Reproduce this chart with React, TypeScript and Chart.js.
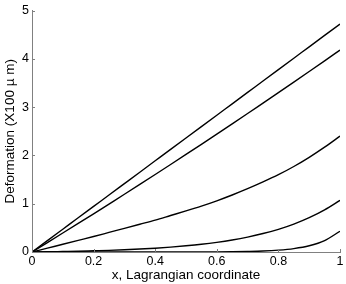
import React, { useEffect, useRef } from "react";
import { Chart, registerables } from "chart.js";

Chart.register(...registerables);

const xValues = [
  0, 0.05, 0.1, 0.15, 0.2, 0.25, 0.3, 0.35, 0.4, 0.45, 0.5,
  0.55, 0.6, 0.65, 0.7, 0.75, 0.8, 0.85, 0.9, 0.95, 1.0,
];
const curve1 = [
  0, 0.236, 0.472, 0.708, 0.944, 1.18, 1.416, 1.652, 1.888, 2.124, 2.36,
  2.596, 2.832, 3.068, 3.304, 3.54, 3.776, 4.012, 4.248, 4.484, 4.72,
];
const curve2 = [
  0, 0.196, 0.393, 0.591, 0.791, 0.993, 1.195, 1.399, 1.605, 1.812, 2.02,
  2.23, 2.441, 2.653, 2.867, 3.083, 3.299, 3.517, 3.737, 3.958, 4.18,
];
const curve3 = [
  0, 0.08, 0.16, 0.24, 0.32, 0.405, 0.49, 0.575, 0.66, 0.755, 0.85,
  0.95, 1.06, 1.18, 1.31, 1.45, 1.6, 1.77, 1.96, 2.17, 2.4,
];
const curve4 = [
  0, 0.004, 0.01, 0.016, 0.025, 0.034, 0.046, 0.061, 0.079, 0.101, 0.128,
  0.16, 0.2, 0.249, 0.309, 0.382, 0.47, 0.579, 0.712, 0.874, 1.07,
];
const curve5 = [
  0, 0, 0, 0, 0, 0, 0, 0, 0, 0, 0.001,
  0.002, 0.0035, 0.0064, 0.012, 0.021, 0.039, 0.071, 0.129, 0.236, 0.43,
];

const xTickValues = [0, 0.2, 0.4, 0.6, 0.8, 1];
const xTickLabels = ["0", "0.2", "0.4", "0.6", "0.8", "1"];
const yTickValues = [0, 1, 2, 3, 4, 5];
const yTickLabels = ["0", "1", "2", "3", "4", "5"];

const xTitle = "x, Lagrangian coordinate";
const yTitle = "Deformation (X100 \u00b5 m)";

const FONT = "'Liberation Sans', Arial, Helvetica, sans-serif";

const inwardTicks = {
  id: "inwardTicks",
  afterDraw(chart: any) {
    const { ctx, chartArea, scales } = chart;
    const xs = scales.x;
    const ys = scales.y;
    ctx.save();
    ctx.strokeStyle = "#808080";
    ctx.lineWidth = 1;
    ctx.beginPath();
    xs.ticks.forEach((t: any) => {
      const px = Math.round(xs.getPixelForValue(t.value)) + 0.5;
      ctx.moveTo(px, chartArea.bottom);
      ctx.lineTo(px, chartArea.bottom - 3);
    });
    ys.ticks.forEach((t: any) => {
      const py = Math.round(ys.getPixelForValue(t.value)) + 0.5;
      ctx.moveTo(chartArea.left, py);
      ctx.lineTo(chartArea.left + 3, py);
    });
    ctx.stroke();
    ctx.restore();
  },
};

function mk(data: number[]) {
  return {
    data: xValues.map((x, i) => ({ x, y: data[i] })),
    borderColor: "#000000",
    borderWidth: 1.4,
    pointRadius: 0,
    fill: false,
    cubicInterpolationMode: "monotone" as const,
  };
}

export default function App() {
  const ref = useRef<HTMLCanvasElement>(null);
  useEffect(() => {
    if (!ref.current) return;
    const chart = new Chart(ref.current, {
      type: "line",
      data: {
        datasets: [mk(curve1), mk(curve2), mk(curve3), mk(curve4), mk(curve5)],
      },
      options: {
        animation: false,
        responsive: false,
        layout: { padding: { top: 9, right: 6, left: 0, bottom: 0 } },
        plugins: { legend: { display: false }, tooltip: { enabled: false } },
        scales: {
          x: {
            type: "linear",
            min: 0,
            max: 1,
            afterBuildTicks: (s: any) => {
              s.ticks = xTickValues.map((v) => ({ value: v }));
            },
            afterFit: (s: any) => {
              s.height = 32;
            },
            grid: { display: false, drawTicks: false },
            border: { display: true, color: "#808080", width: 1 },
            ticks: {
              padding: 2,
              color: "#000",
              font: { family: FONT, size: 12.5 },
              maxRotation: 0,
              autoSkip: false,
              callback: (v: any) => {
                const i = xTickValues.findIndex((t) => Math.abs(t - v) < 1e-6);
                return i >= 0 ? xTickLabels[i] : "";
              },
            },
            title: {
              display: true,
              text: xTitle,
              color: "#000",
              font: { family: FONT, size: 13.5 },
              padding: { top: 0, bottom: 1 },
            },
          },
          y: {
            type: "linear",
            min: 0,
            max: 5,
            afterBuildTicks: (s: any) => {
              s.ticks = yTickValues.map((v) => ({ value: v }));
            },
            afterFit: (s: any) => {
              s.width = 32;
            },
            grid: { display: false, drawTicks: false },
            border: { display: true, color: "#808080", width: 1 },
            ticks: {
              padding: 3,
              color: "#000",
              font: { family: FONT, size: 12.5 },
              callback: (v: any) => {
                const i = yTickValues.findIndex((t) => Math.abs(t - v) < 1e-6);
                return i >= 0 ? yTickLabels[i] : "";
              },
            },
            title: {
              display: true,
              text: yTitle,
              color: "#000",
              font: { family: FONT, size: 13.5 },
              padding: { top: 2, bottom: 0 },
            },
          },
        },
      },
      plugins: [inwardTicks],
    });
    return () => chart.destroy();
  }, []);
  return (
    <div style={{ position: "absolute", left: 0, top: 0, width: 346, height: 284, background: "#fff" }}>
      <canvas ref={ref} width={346} height={284} />
    </div>
  );
}
